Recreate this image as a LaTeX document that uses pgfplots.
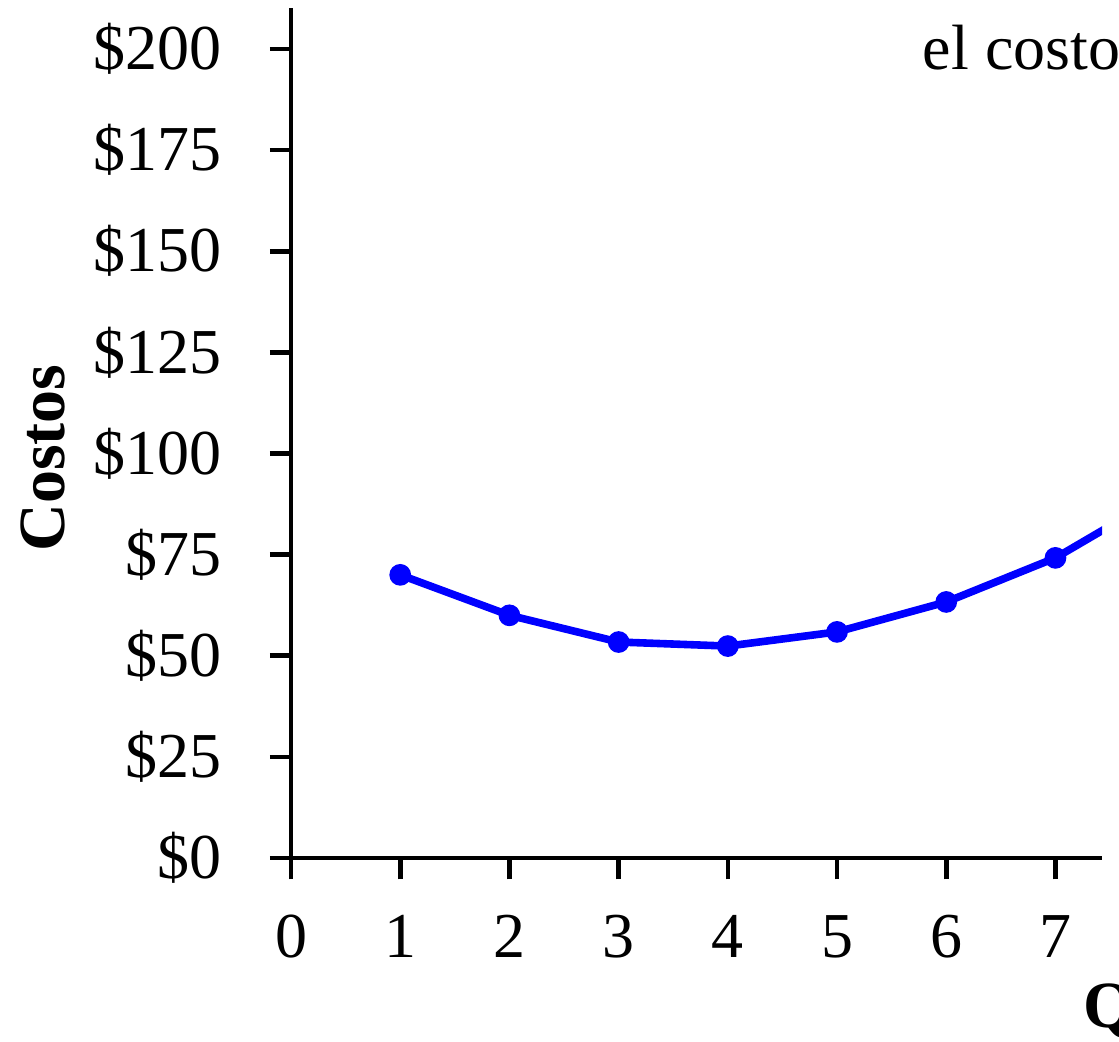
\documentclass[border=0pt]{standalone}
\usepackage{fontspec}
\setmainfont{Liberation Serif}
\usepackage{pgfplots}
\pgfplotsset{compat=1.18}
\begin{document}
\begin{tikzpicture}
\begin{axis}[
  name=ax,
  x=27.3pt, y=1.0113pt,
  xmin=0, xmax=7.427, ymin=0, ymax=210.1,
  axis lines=left,
  axis line style={-, line width=1.15pt},
  every tick/.style={black, line width=1.15pt},
  tick align=outside,
  major tick length=5.3pt,
  xtick={0,1,...,7},
  ytick={0,25,...,200},
  yticklabel={\$\pgfmathprintnumber{\tick}},
  /pgf/number format/assume math mode=true,
  tick label style={font=\fontsize{16}{19}\selectfont},
  yticklabel style={xshift=-8.5pt},
  xticklabel style={yshift=-5.5pt},
  clip mode=individual,
]
\addplot[blue, line width=1.9pt, mark=*, mark size=1.75pt, mark options={solid}]
  coordinates {(1,70) (2,60) (3,53.4) (4,52.4) (5,55.9) (6,63.3) (7,74.2) (8,90)};
\node[anchor=base west, font=\fontsize{16}{19}\selectfont, inner sep=0pt] at (axis cs:5.778,194.8) {el costo};
\node[anchor=base west, font=\fontsize{16.5}{19}\selectfont\bfseries, inner sep=0pt] at (axis cs:7.253,-41.8) {Q};
\node[anchor=base, rotate=90, font=\fontsize{16.5}{19}\selectfont\bfseries, inner sep=0pt] at (axis cs:-2.07,98.9) {Costos};
\coordinate (bl) at (axis cs:-2.665,-45.24);
\coordinate (tr) at (axis cs:7.582,212.1);
\end{axis}
\pgfresetboundingbox
\path[use as bounding box] (bl) rectangle (tr);
\end{tikzpicture}
\end{document}
